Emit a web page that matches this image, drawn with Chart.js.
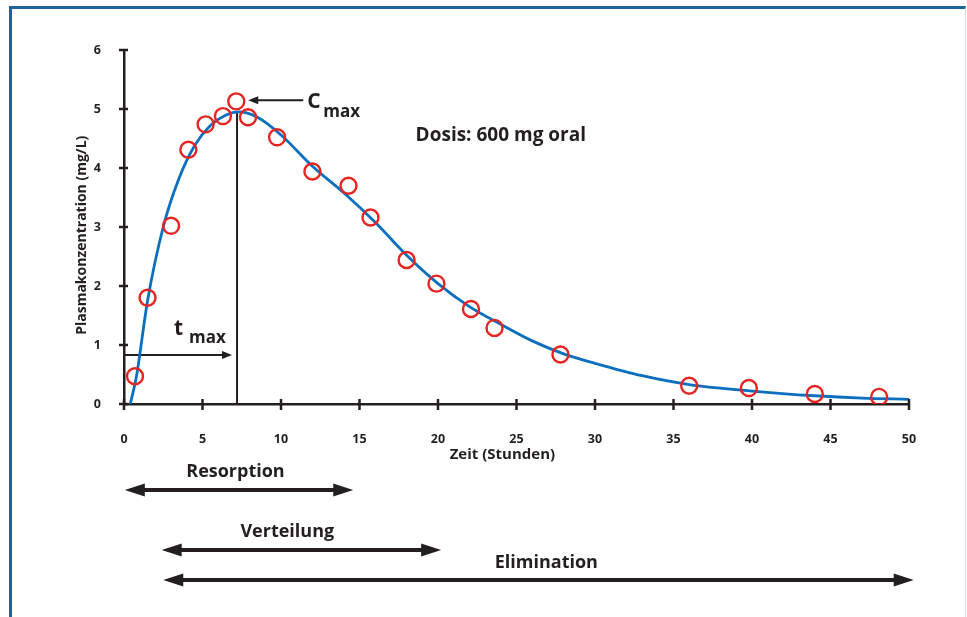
<!DOCTYPE html>
<html lang="de">
<head>
<meta charset="utf-8">
<title>Plasmakonzentration</title>
<script src="https://cdn.jsdelivr.net/npm/chart.js@4/dist/chart.umd.min.js"></script>
<style>
    html, body { margin: 0; padding: 0; background: #fff; }
    #wrap { position: relative; width: 967px; height: 617px; overflow: hidden; }
    #frame {
        position: absolute; left: 9px; top: 6px; width: 953px; height: 640px;
        border-top: 3px solid #1a6698; border-left: 3px solid #1a6698; border-right: 1px solid #cfe1ea;
    }
    #chart { position: absolute; left: 0; top: 0; }
</style>
</head>
<body>
<div id="wrap">
    <div id="frame"></div>
    <canvas id="chart" width="967" height="617"></canvas>
</div>
<script>
// measured values (red circles)
const sampleTimes = [0.7, 1.5, 3.0, 4.1, 5.2, 6.3, 7.15, 7.9, 9.75, 12.0, 14.3, 15.7, 18.0, 19.9, 22.1, 23.6, 27.8, 36.0, 39.8, 44.0, 48.1];
const sampleConc = [0.47, 1.80, 3.02, 4.31, 4.74, 4.88, 5.13, 4.86, 4.52, 3.94, 3.70, 3.16, 2.44, 2.04, 1.61, 1.29, 0.84, 0.31, 0.27, 0.17, 0.12];

// fitted curve (blue)
const curveTimes = [0.4, 0.8, 1.5, 2.5, 3.5, 4.5, 5.5, 6.5, 7.3, 8.5, 10, 12, 14, 16, 18, 20, 22, 24, 26, 28, 30, 33, 36, 40, 44, 47, 50];
const curveConc = [0, 0.48, 1.75, 3.0, 3.82, 4.38, 4.72, 4.90, 4.95, 4.86, 4.56, 4.03, 3.58, 3.08, 2.52, 2.04, 1.65, 1.35, 1.07, 0.85, 0.69, 0.48, 0.33, 0.22, 0.14, 0.10, 0.08];

const xTicks = [0, 5, 10, 15, 20, 25, 30, 35, 40, 45, 50];
const yTicks = [0, 1, 2, 3, 4, 5, 6];

const tMax = 7.2;
const cMaxCurve = 4.95;
const tMaxArrowLevel = 0.83;
const cMaxPoint = [7.15, 5.13];

// phases under the axis: name, start, end (Stunden), label centre
const phaseNames = ['Resorption', 'Verteilung', 'Elimination'];
const phaseStart = [0.05, 2.4, 2.5];
const phaseEnd = [14.6, 20.2, 50.3];
const phaseLabelAt = [7.1, 10.4, 26.9];

const ink = '#231f20';
const blue = '#0a6fbf';
const red = '#e52521';
const fontFamily = '"Open Sans", "DejaVu Sans", sans-serif';

function arrowHead(ctx, x, y, dir, len, half) {
    ctx.beginPath();
    ctx.moveTo(x, y);
    ctx.lineTo(x - dir * len, y - half);
    ctx.lineTo(x - dir * len, y + half);
    ctx.closePath();
    ctx.fill();
}

const annotations = {
    id: 'annotations',
    beforeDatasetsDraw(chart) {
        const ctx = chart.ctx;
        const x = chart.scales.x;
        const y = chart.scales.y;
        ctx.save();
        ctx.strokeStyle = ink;
        ctx.fillStyle = ink;
        ctx.lineWidth = 2;

        // t max vertical line
        const xt = x.getPixelForValue(tMax);
        ctx.beginPath();
        ctx.moveTo(xt, y.getPixelForValue(0));
        ctx.lineTo(xt, y.getPixelForValue(cMaxCurve));
        ctx.stroke();

        // t max horizontal arrow
        const ya = y.getPixelForValue(tMaxArrowLevel);
        ctx.beginPath();
        ctx.moveTo(x.getPixelForValue(0), ya);
        ctx.lineTo(xt - 10, ya);
        ctx.stroke();
        arrowHead(ctx, xt - 5, ya, 1, 10, 4);
        ctx.restore();
    },
    afterDraw(chart) {
        const ctx = chart.ctx;
        const x = chart.scales.x;
        const y = chart.scales.y;
        ctx.save();
        ctx.strokeStyle = ink;
        ctx.fillStyle = ink;

        // tick marks crossing the axes
        ctx.lineWidth = 2.5;
        const y0 = y.getPixelForValue(0);
        const x0 = x.getPixelForValue(0);
        xTicks.forEach(v => {
            const px = x.getPixelForValue(v);
            ctx.beginPath();
            ctx.moveTo(px, y0 - 5);
            ctx.lineTo(px, y0 + 6);
            ctx.stroke();
        });
        yTicks.forEach(v => {
            const py = y.getPixelForValue(v);
            ctx.beginPath();
            ctx.moveTo(x0 - 5, py);
            ctx.lineTo(x0 + 4, py);
            ctx.stroke();
        });

        // axis titles
        ctx.textAlign = 'center';
        ctx.textBaseline = 'middle';
        ctx.font = 'bold 15px ' + fontFamily;
        ctx.fillText('Zeit (Stunden)', x.getPixelForValue(24.1), 455);
        ctx.save();
        ctx.translate(82, y.getPixelForValue(2.86));
        ctx.rotate(-Math.PI / 2);
        ctx.font = 'bold 14px ' + fontFamily;
        ctx.fillText('Plasmakonzentration (mg/L)', 0, 0);
        ctx.restore();

        // C max arrow
        const cy = y.getPixelForValue(cMaxPoint[1]) - 1;
        const cx = x.getPixelForValue(cMaxPoint[0]) + 12;
        ctx.lineWidth = 2;
        ctx.beginPath();
        ctx.moveTo(cx + 8, cy);
        ctx.lineTo(cx + 55, cy);
        ctx.stroke();
        arrowHead(ctx, cx, cy, -1, 10, 4);

        ctx.textBaseline = 'alphabetic';
        ctx.textAlign = 'left';
        ctx.font = 'bold 21px ' + fontFamily;
        ctx.fillText('C', cx + 59, cy + 8);
        ctx.font = 'bold 17px ' + fontFamily;
        ctx.fillText('max', cx + 75, cy + 17);

        // t max label
        const xt = x.getPixelForValue(tMax);
        const ya = y.getPixelForValue(tMaxArrowLevel);
        ctx.font = 'bold 21px ' + fontFamily;
        ctx.fillText('t', xt - 63, ya - 20);
        ctx.font = 'bold 17px ' + fontFamily;
        ctx.fillText('max', xt - 48, ya - 12);

        // dose note
        ctx.textAlign = 'center';
        ctx.textBaseline = 'middle';
        ctx.font = 'bold 19px ' + fontFamily;
        ctx.fillText('Dosis: 600 mg oral', x.getPixelForValue(24.0), y.getPixelForValue(4.55));

        // phase arrows
        const rows = [490, 550, 580];
        const labelRows = [472, 532, 563];
        phaseNames.forEach((name, i) => {
            const xa = x.getPixelForValue(phaseStart[i]);
            const xb = x.getPixelForValue(phaseEnd[i]);
            const yy = rows[i];
            ctx.lineWidth = 4;
            ctx.beginPath();
            ctx.moveTo(xa + 15, yy);
            ctx.lineTo(xb - 15, yy);
            ctx.stroke();
            arrowHead(ctx, xa, yy, -1, 20, 6.5);
            arrowHead(ctx, xb, yy, 1, 20, 6.5);
            ctx.font = 'bold 18px ' + fontFamily;
            ctx.fillText(name, x.getPixelForValue(phaseLabelAt[i]), labelRows[i]);
        });
        ctx.restore();
    }
};

new Chart(document.getElementById('chart'), {
    type: 'scatter',
    data: {
        datasets: [
            {
                label: 'Modell',
                data: curveTimes.map((t, i) => ({ x: t, y: curveConc[i] })),
                showLine: true,
                borderColor: blue,
                borderWidth: 2.8,
                pointRadius: 0,
                cubicInterpolationMode: 'monotone',
                fill: false,
                order: 2
            },
            {
                label: 'Messwerte',
                data: sampleTimes.map((t, i) => ({ x: t, y: sampleConc[i] })),
                showLine: false,
                pointStyle: 'circle',
                pointRadius: 8,
                pointBorderWidth: 2.4,
                pointBorderColor: red,
                pointBackgroundColor: 'rgba(0,0,0,0)',
                order: 1
            }
        ]
    },
    options: {
        responsive: false,
        animation: false,
        events: [],
        layout: {
            padding: { top: 50, right: 58, bottom: 143, left: 0 }
        },
        plugins: {
            legend: { display: false },
            tooltip: { enabled: false }
        },
        scales: {
            x: {
                type: 'linear',
                min: 0,
                max: 50,
                afterFit(scale) { scale.height = 70; },
                afterBuildTicks(scale) { scale.ticks = xTicks.map(v => ({ value: v })); },
                grid: { display: false },
                border: { display: true, color: ink, width: 2.5 },
                ticks: {
                    padding: 20,
                    color: ink,
                    font: { family: fontFamily, size: 12.5, weight: 'bold' }
                }
            },
            y: {
                type: 'linear',
                min: 0,
                max: 6,
                afterFit(scale) { scale.width = 124; },
                afterBuildTicks(scale) { scale.ticks = yTicks.map(v => ({ value: v })); },
                grid: { display: false },
                border: { display: true, color: ink, width: 2.5 },
                ticks: {
                    padding: 15,
                    color: ink,
                    font: { family: fontFamily, size: 12.5, weight: 'bold' }
                }
            }
        }
    },
    plugins: [annotations]
});
</script>
</body>
</html>
